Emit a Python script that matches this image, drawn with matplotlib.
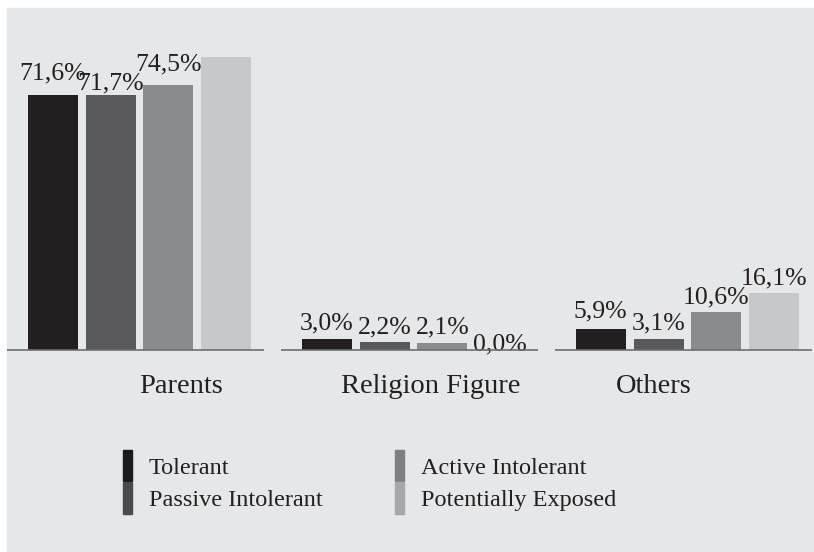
import matplotlib
matplotlib.use("Agg")
import matplotlib.pyplot as plt
import numpy as np
from matplotlib.patches import Rectangle

plt.rcParams["font.family"] = ["Liberation Serif", "DejaVu Serif"]

# ------------------------------------------------------------------ #
#  Data                                                               #
# ------------------------------------------------------------------ #
categories = ["Parents", "Religion Figure", "Others"]
series = ["Tolerant", "Passive Intolerant", "Active Intolerant",
          "Potentially Exposed"]
tolerant = [71.6, 3.0, 5.9]
passive = [71.7, 2.2, 3.1]
active = [74.5, 2.1, 10.6]
exposed = [82.3, 0.0, 16.1]
# the label of the tallest Parents bar is not shown in the source
show_label = [[True, True, True],
              [True, True, True],
              [True, True, True],
              [False, True, True]]

# layout: vertical nudge of each value label (points), per series / group
label_dy = [[7.5, 3.2, 4.6],
            [0.0, 3.0, 3.2],
            [6.8, 3.0, 2.4],
            [0.0, -4.0, 2.4]]

bar_colors = ["#231f20", "#59595b", "#8a8b8d", "#c7c8ca"]
legend_colors = ["#1a1a1a", "#4b4b4d", "#808082", "#a7a8aa"]
bg = "#e6e7e8"

# ------------------------------------------------------------------ #
#  Figure                                                             #
# ------------------------------------------------------------------ #
W, H = 814, 552
fig = plt.figure(figsize=(W / 100, H / 100), dpi=100, facecolor="white")
fig.add_artist(Rectangle((7 / W, 0), 1 - 7 / W, 1 - 8 / H,
                         transform=fig.transFigure, color=bg, zorder=-10))

ax = fig.add_axes([7 / W, (H - 350) / H, 1 - 7 / W, (350 - 8) / H])
ax.set_facecolor("none")

x = np.arange(len(categories))
pitch = 0.211
width = 0.182
values = [tolerant, passive, active, exposed]
for i, (vals, col) in enumerate(zip(values, bar_colors)):
    pos = x + (i - 1.5) * pitch
    bars = ax.bar(pos, vals, width, color=col, label=series[i], zorder=2)
    for b, v, show, dy in zip(bars, vals, show_label[i], label_dy[i]):
        if not show:
            continue
        ax.annotate(f"{v:.1f}%".replace(".", ","),
                    (b.get_x() + b.get_width() / 2, v),
                    xytext=(0, dy), textcoords="offset points",
                    ha="center", va="bottom", fontsize=18.5,
                    color="#231f20", annotation_clip=False)

# separate baseline under each group
ax.hlines(np.zeros(len(x)), x - 0.484, x + 0.456, color="#6d6e70",
          lw=1.2, clip_on=False, zorder=3)

ax.set_xlim(-0.4836, -0.4836 + 807 / 274)
ax.set_ylim(0, 96)
label_shift = [0.151, 0.064, -0.122]
ax.set_xticks(x + np.array(label_shift))
ax.set_xticklabels(categories, fontsize=20.5, color="#231f20")
ax.tick_params(axis="x", length=0, pad=17)
ax.set_yticks([])
for s in ax.spines.values():
    s.set_visible(False)

handles = [Rectangle((0, 0), 1, 1, color=c) for c in legend_colors]
fig.legend(handles, series, loc="upper left",
           bbox_to_anchor=(123 / W, (H - 450) / H),
           bbox_transform=fig.transFigure, ncol=2, frameon=False,
           fontsize=17.5, borderpad=0, borderaxespad=0,
           handlelength=0.37, handleheight=1.6, labelspacing=0.05,
           handletextpad=0.68, columnspacing=3.0,
           labelcolor="#231f20")

fig.savefig("out.png", dpi=100, facecolor="white")
